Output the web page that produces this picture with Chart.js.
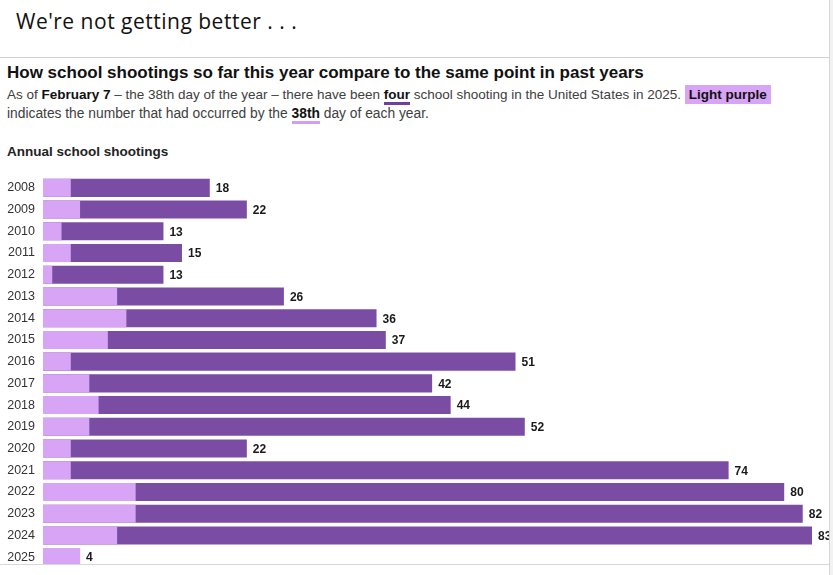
<!DOCTYPE html>
<html>
<head>
<meta charset="utf-8">
<script src="https://cdn.jsdelivr.net/npm/chart.js@4"></script>
<style>
  html, body { margin: 0; padding: 0; background: #f2f2f2; }
  #panel { position: absolute; left: 0; top: 0; width: 829px; height: 575px; background: #fff; border-right: 1px solid #d6d6d6; overflow: hidden; }
  #head { position: absolute; left: 0; top: 0; width: 829px; height: 57px; border-bottom: 1px solid #d2d2d2; }
  #head span { position: absolute; left: 16px; top: 7px; font-family: "Open Sans", sans-serif; font-size: 21px; letter-spacing: 0.5px; color: #111; }
  #title { position: absolute; left: 7px; top: 63px; font-family: "Liberation Sans", Arial, sans-serif; font-weight: bold; font-size: 17px; color: #111; white-space: nowrap; }
  .sub { position: absolute; left: 7px; font-family: "Liberation Sans", Arial, sans-serif; font-size: 13.5px; color: #404040; white-space: nowrap; }
  .sub b { color: #111; }
  .u1 { border-bottom: 3px solid #6e3f9c; }
  .u2 { border-bottom: 3px solid #d29df2; }
  .hl { background: #d8a4f5; padding: 2px 4px; }
  #label { position: absolute; left: 7px; top: 144px; font-family: "Liberation Sans", Arial, sans-serif; font-weight: bold; font-size: 13.5px; color: #222; }
  #box { position: absolute; left: 0; top: 177px; width: 829px; height: 387px; overflow: hidden; border-bottom: 1px solid #d8d8d8; }
</style>
</head>
<body>
<div id="panel">
  <div id="head"><span>We're not getting better . . .</span></div>
  <div id="title">How school shootings so far this year compare to the same point in past years</div>
  <div class="sub" style="top:87px">As of <b>February 7</b> – the 38th day of the year – there have been <b class="u1">four</b> school shooting in the United States in 2025. <b class="hl">Light purple</b></div>
  <div class="sub" style="top:106px; font-size:13.8px">indicates the number that had occurred by the <b class="u2">38th</b> day of each year.</div>
  <div id="label">Annual school shootings</div>
  <div id="box"><canvas id="myChart" width="829" height="391"></canvas></div>
</div>
<script>
// years shown down the left side
var years = ['2008','2009','2010','2011','2012','2013','2014','2015','2016','2017','2018','2019','2020','2021','2022','2023','2024','2025'];
// shootings by the 38th day (light purple)
var byDay38 = [3, 4, 2, 3, 1, 8, 9, 7, 3, 5, 6, 5, 3, 3, 10, 10, 8, 4];
// whole year totals (dark purple)
var fullYear = [18, 22, 13, 15, 13, 26, 36, 37, 51, 42, 44, 52, 22, 74, 80, 82, 83, 4];

var lightPurple = '#d8a4f5';
var darkPurple = '#7a4ca4';

// write the total at the end of each bar
var totalLabels = {
    id: 'totalLabels',
    afterDatasetsDraw: function(chart) {
        var ctx = chart.ctx;
        var meta = chart.getDatasetMeta(1);
        ctx.save();
        ctx.font = 'bold 12px "Liberation Sans", Arial, sans-serif';
        ctx.fillStyle = '#1a1a1a';
        ctx.textBaseline = 'middle';
        for (var i = 0; i < fullYear.length; i++) {
            var x = chart.scales.x.getPixelForValue(fullYear[i]);
            ctx.fillText(fullYear[i], x + 6, meta.data[i].y + 1);
        }
        ctx.restore();
    }
};

var chart = new Chart(document.getElementById('myChart'), {
    type: 'bar',
    data: {
        labels: years,
        datasets: [{
            label: 'By day 38',
            data: byDay38,
            backgroundColor: lightPurple,
            order: 0
        }, {
            label: 'Full year',
            data: fullYear,
            backgroundColor: darkPurple,
            order: 1
        }]
    },
    options: {
        indexAxis: 'y',
        responsive: false,
        animation: false,
        barPercentage: 0.83,
        categoryPercentage: 1,
        layout: { padding: { left: 0, right: 17, top: 0, bottom: 0 } },
        plugins: {
            legend: { display: false },
            tooltip: { enabled: false }
        },
        scales: {
            x: {
                display: false,
                min: 0,
                max: 83
            },
            y: {
                stacked: true,
                grid: { display: false, drawTicks: false },
                border: { display: false },
                ticks: {
                    color: '#333',
                    padding: 8,
                    font: { family: '"Liberation Sans", Arial, sans-serif', size: 12.5 }
                },
                afterFit: function(scale) {
                    scale.width = 43;
                    scale.paddingTop = 0;
                    scale.paddingBottom = 0;
                }
            }
        }
    },
    plugins: [totalLabels]
});
</script>
</body>
</html>
